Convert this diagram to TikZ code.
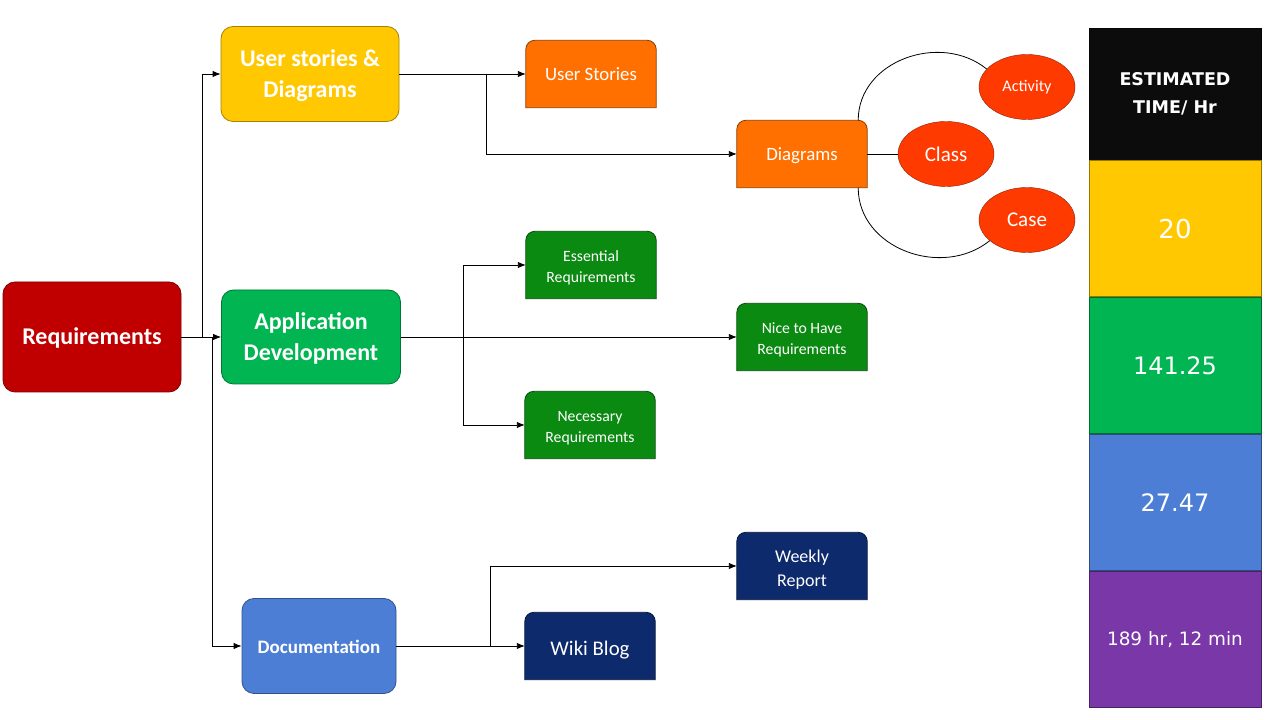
\documentclass[tikz,border=0pt]{standalone}
\usepackage{fontspec}
\setmainfont{Carlito}
\newfontfamily\tabfont{DejaVu Sans}
\usepackage{xcolor}
\usetikzlibrary{shapes,shapes.geometric,arrows,arrows.meta,positioning,backgrounds}
\definecolor{reqred}{HTML}{C00000}
\definecolor{usdyellow}{HTML}{FFC800}
\definecolor{appgreen}{HTML}{00B552}
\definecolor{docblue}{HTML}{4D7ED5}
\definecolor{suborange}{HTML}{FF7000}
\definecolor{subgreen}{HTML}{0B8A12}
\definecolor{subnavy}{HTML}{0C2A6C}
\definecolor{ovalred}{HTML}{FF3A00}
\definecolor{tabblack}{HTML}{0C0C0C}
\definecolor{tabpurple}{HTML}{7A37A8}
\tikzset{
  mainbox/.style={draw=#1!65!black, fill=#1, rounded corners=12pt, text=white, align=center, line width=0.8pt, font=\bfseries\fontsize{24}{31}\selectfont, text height=50pt, text depth=3.5pt},
  subbox/.style={text=white, minimum width=130pt, minimum height=67pt, align=center, inner sep=0pt, font=\fontsize{18.8}{24}\selectfont, text height=16pt, text depth=2pt},
  smallsub/.style={subbox, font=\fontsize{15.7}{21}\selectfont, text height=38pt, text depth=2.9pt},
  oval/.style={ellipse, draw=ovalred!55!black, fill=ovalred, text=white, minimum width=96pt, minimum height=65pt, inner sep=0pt, font=\fontsize{21}{24}\selectfont},
  cell/.style={fill=#1, draw=#1!60!black, text=white, minimum width=172pt, align=center, line width=0.8pt},
  link/.style={draw=black, line width=0.9pt, -{Latex[length=8pt,width=6.5pt]}}
}

\begin{document}
\begin{tikzpicture}[x=1pt,y=1pt]
  \useasboundingbox (0,0) rectangle (1280,720);

  % main branches
  \node[mainbox=reqred, minimum width=178pt, minimum height=110pt, text height=19pt] (req) at (92,383) {Requirements};
  \node[mainbox=usdyellow, minimum width=178pt, minimum height=95pt] (usd) at (310,646) {User stories \&\\Diagrams};
  \node[mainbox=appgreen, minimum width=179pt, minimum height=94pt] (app) at (311,383) {Application\\Development};
  \node[mainbox=docblue, minimum width=154pt, minimum height=95pt, font=\bfseries\fontsize{19}{24}\selectfont, text height=17pt, text depth=1.8pt] (doc) at (319,74) {Documentation};

  % leaves
  \node[subbox] (ustory) at (591,646) {User Stories};
  \node[subbox] (diag) at (802,566) {Diagrams};
  \node[smallsub] (ess) at (591,455) {Essential\\Requirements};
  \node[smallsub] (nice) at (802,383) {Nice to Have\\Requirements};
  \node[smallsub] (nec) at (590,295) {Necessary\\Requirements};
  \node[subbox, font=\fontsize{18}{24}\selectfont, text height=43pt, text depth=2.4pt] (week) at (802,154) {Weekly\\Report};
  \node[subbox, font=\fontsize{20.8}{24}\selectfont, text height=21pt, text depth=1.6pt] (wiki) at (590,74) {Wiki Blog};

  \node[oval, font=\fontsize{16.2}{20}\selectfont] (act) at (1027,633) {Activity};
  \node[oval] (cls) at (946,566) {Class};
  \node[oval] (cse) at (1027,500) {Case};

  \begin{scope}[on background layer]
    \foreach \n/\c in {ustory/suborange, diag/suborange, ess/subgreen, nice/subgreen, nec/subgreen, week/subnavy, wiki/subnavy}
      \filldraw[fill=\c, draw=\c!55!black, line width=0.8pt] (\n.south west) -- ([yshift=-9pt]\n.north west) arc[start angle=180, end angle=90, radius=9pt] -- ([xshift=-9pt]\n.north east) arc[start angle=90, end angle=0, radius=9pt] -- (\n.south east) -- cycle;
  \end{scope}

  % connectors
  \draw[link] (req.east) -- ++(21,0) |- (usd.west);
  \draw[link] (req.east) -- (app.west);
  \draw[link] (req.east) -- ++(31,0) |- (doc.west);

  \draw[link] (usd.east) -- (ustory.west);
  \draw[link] (usd.east) -- ++(87,0) |- (diag.west);
  \draw[line width=0.9pt] (diag.east) -- (cls.west);
  \draw[line width=0.8pt] ([xshift=-9pt]diag.north east) to[out=90, in=141, looseness=1.1] (act.156);
  \draw[line width=0.8pt] ([xshift=-9pt]diag.south east) to[out=-90, in=219, looseness=1.1] (cse.209);

  \draw[link] (app.east) -- (nice.west);
  \draw[link] (app.east) -- ++(63,0) |- (ess.west);
  \draw[link] (app.east) -- ++(63,0) |- (nec.west);

  \draw[link] (doc.east) -- (wiki.west);
  \draw[link] (doc.east) -- ++(94,0) |- (week.west);

  % time table
  \node[cell=tabblack, minimum height=132pt, font=\tabfont\bfseries\fontsize{17.5}{28}\selectfont] (hdr) at (1175,626) {ESTIMATED\\TIME/ Hr};
  \node[cell=usdyellow, minimum height=136pt, below=0pt of hdr, font=\tabfont\fontsize{26}{30}\selectfont] (t1) {20};
  \node[cell=appgreen, minimum height=136pt, below=0pt of t1, font=\tabfont\fontsize{24}{28}\selectfont] (t2) {141.25};
  \node[cell=docblue, minimum height=136pt, below=0pt of t2, font=\tabfont\fontsize{24}{28}\selectfont] (t3) {27.47};
  \node[cell=tabpurple, minimum height=136pt, below=0pt of t3, font=\tabfont\fontsize{18.4}{22}\selectfont] (t4) {189 hr, 12 min};
\end{tikzpicture}
\end{document}
